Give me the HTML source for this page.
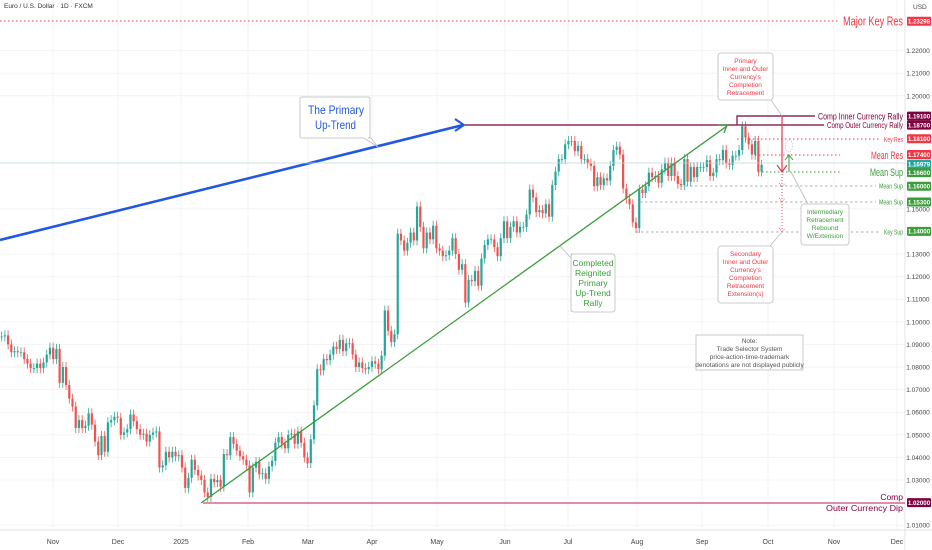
<!DOCTYPE html>
<html><head><meta charset="utf-8"><style>
html,body{margin:0;padding:0;background:#fff;}
body{position:relative;width:932px;height:550px;overflow:hidden}
svg{display:block;font-family:"Liberation Sans",sans-serif;}
</style></head><body>
<svg id="chart" width="932" height="550" viewBox="0 0 932 550" xmlns="http://www.w3.org/2000/svg">
<rect x="0" y="0" width="932" height="550" fill="#fff"/>
<g id="grid"></g>
<g id="candles"></g>
<g id="ann"></g>
<g id="axis"></g>
</svg>
<script>
const months=["Nov","Dec","2025","Feb","Mar","Apr","May","Jun","Jul","Aug","Sep","Oct","Nov","Dec"];
const monthX=[53,118,181,248,308,372,437,505,568,637,702,768,834,897];
const closes=[
1.0975,1.0940,1.0935,1.0935,1.0940,1.0900,1.0865,1.0870,1.0865,1.0865,1.0835,1.0815,1.0795,1.0795,1.0815,1.0795,1.0820,1.0855,1.0885,
1.0835,1.0880,1.0730,1.0800,1.0720,1.0660,1.0625,1.0530,1.0565,1.0530,1.0540,1.0595,1.0545,1.0470,1.0410,1.0495,1.0425,1.0555,1.0565,1.0580,1.0575,
1.0500,1.0510,1.0525,1.0590,1.0560,1.0525,1.0500,1.0505,1.0470,1.0500,1.0510,1.0515,1.0355,1.0365,1.0425,1.0400,1.0425,1.0405,1.0410,1.0355,
1.0265,1.0310,1.0390,1.0345,1.0320,1.0300,1.0245,1.0225,1.0305,1.0290,1.0300,1.0270,1.0415,1.0410,1.0490,1.0460,1.0430,1.0405,1.0390,1.0365,
1.0245,1.0355,1.0380,1.0325,1.0330,1.0305,1.0360,1.0385,1.0465,1.0490,1.0460,1.0440,1.0500,1.0505,1.0460,1.0515,1.0465,1.0400,1.0375,
1.0480,1.0630,1.0790,1.0785,1.0835,1.0830,1.0855,1.0890,1.0880,1.0920,1.0870,1.0905,1.0905,1.0855,1.0800,1.0820,1.0795,1.0790,1.0800,1.0825,1.0815,
1.0790,1.0850,1.1050,1.0960,1.0910,1.0945,1.1390,1.1360,1.1315,1.1350,1.1395,1.1360,1.1510,1.1420,1.1325,1.1395,1.1365,1.1425,1.1325,1.1315,
1.1290,1.1295,1.1315,1.1370,1.1300,1.1230,1.1255,1.1085,1.1185,1.1180,1.1225,1.1160,1.1280,1.1340,1.1365,1.1365,1.1330,1.1290,1.1370,
1.1445,1.1370,1.1420,1.1445,1.1395,1.1420,1.1420,1.1475,1.1585,1.1550,1.1485,1.1495,1.1480,1.1520,1.1465,1.1605,1.1665,1.1720,1.1720,1.1785,
1.1800,1.1800,1.1755,1.1778,1.1720,1.1720,1.1700,1.1690,1.1600,1.1640,1.1605,1.1635,1.1625,1.1690,1.1760,1.1775,1.1740,1.1590,1.1545,1.1520,1.1440,1.1415,
1.1585,1.1570,1.1600,1.1660,1.1640,1.1645,1.1615,1.1675,1.1705,1.1645,1.1705,1.1645,1.1610,1.1605,1.1720,1.1620,1.1685,1.1640,1.1685,1.1685,1.1685,
1.1715,1.1645,1.1660,1.1720,1.1715,1.1760,1.1700,1.1695,1.1735,1.1735,1.1760,1.1865,1.1815,1.1785,1.1740,1.1800,1.1665,1.1695];
const tickPrices=[1.01,1.03,1.04,1.05,1.06,1.07,1.08,1.09,1.10,1.11,1.12,1.13,1.15,1.20,1.21,1.22];
const levelPrices=[1.23298,1.191,1.187,1.181,1.174,1.16979,1.166,1.160,1.153,1.140,1.020];
const levelLabels=["1.23298","1.19100","1.18700","1.18100","1.17400","1.16979","1.16600","1.16000","1.15300","1.14000","1.02000"];

const NS="http://www.w3.org/2000/svg";
function yS(p){return 254-(p-1.13)*2260;}
function xS(i){return -8+i*3.22;}
function mk(parent,tag,attrs,text){const e=document.createElementNS(NS,tag);for(const k in attrs)e.setAttribute(k,attrs[k]);if(text!==undefined)e.textContent=text;parent.appendChild(e);return e;}
const grid=document.getElementById('grid'),cg=document.getElementById('candles'),ax=document.getElementById('axis');

monthX.forEach(x=>{const l=mk(grid,'line',{x1:x,y1:0,x2:x,y2:530,stroke:'#f3f3f5','stroke-width':1});

});
tickPrices.forEach(p=>{const l=mk(grid,'line',{x1:0,y1:yS(p),x2:905,y2:yS(p),stroke:'#f3f3f5','stroke-width':1});

});

for(let i=0;i<closes.length;i++){
  const c=closes[i],o=i>0?closes[i-1]:c+0.001;
  const up=c>=o,col=up?'#26a69a':'#ef5350';
  const x=xS(i),hi=Math.max(o,c)+0.0022,lo=Math.min(o,c)-0.0022;
  const g=mk(cg,'g',{});
  
  
  mk(g,'line',{x1:x,y1:yS(hi),x2:x,y2:yS(lo),stroke:col,'stroke-width':0.8});
  const t=yS(Math.max(o,c)),b=yS(Math.min(o,c));
  mk(g,'rect',{x:x-1.1,y:t,width:2.2,height:Math.max(b-t,0.8),fill:col});
}

months.forEach((m,i)=>{const t=mk(ax,'text',{x:monthX[i],y:544,'font-size':7,fill:'#444','text-anchor':'middle'},m);

});
mk(ax,'line',{x1:0,y1:530,x2:932,y2:530,stroke:'#e0e3eb','stroke-width':1});
mk(ax,'line',{x1:905,y1:0,x2:905,y2:550,stroke:'#e0e3eb','stroke-width':1});
tickPrices.forEach(p=>{const t=mk(ax,'text',{x:918,y:yS(p)+2.5,'font-size':6.5,fill:'#444','text-anchor':'middle'},p.toFixed(5));

});
const boxCols=['#f23645','#800040','#800040','#f23645','#f23645','#22a7a0','#3a9d3a','#3a9d3a','#3a9d3a','#3a9d3a','#800040'];
levelPrices.forEach((p,i)=>{const g=mk(ax,'g',{});


mk(g,'rect',{x:907,y:yS(p)-4.5,width:24,height:9,fill:boxCols[i],rx:1});
mk(g,'text',{x:919,y:yS(p)+2.3,'font-size':6.2,fill:'#fff','text-anchor':'middle','font-weight':'bold'},levelLabels[i]);});
</script>
<svg style="position:absolute;left:0;top:0" width="932" height="550" viewBox="0 0 932 550" xmlns="http://www.w3.org/2000/svg" font-family="Liberation Sans, sans-serif">
<text x="4" y="8" font-size="6.5" fill="#333">Euro / U.S. Dollar · 1D · FXCM</text>
<text x="913" y="9" font-size="6.5" fill="#444">USD</text>
<g>
<line x1="0" y1="21" x2="840" y2="21" stroke="#f23645" stroke-dasharray="1.5,2.5" stroke-width="1"/>
<text x="843" y="25.5" font-size="13" fill="#f23645" textLength="60" lengthAdjust="spacingAndGlyphs">Major Key Res</text>
</g>
<g>
<line x1="0" y1="240" x2="463" y2="125" stroke="#2157e6" stroke-width="2.6"/>
<polyline points="455,119 464,125 455,131" fill="none" stroke="#2157e6" stroke-width="2"/>
</g>
<g>
<path d="M302,97 H368 Q370,97 370,99 V136 Q370,138 368,138 H371 L378,147 L364,138 H302 Q300,138 300,136 V99 Q300,97 302,97 Z" fill="#fff" stroke="#bbb" stroke-width="0.8"/>
<text x="308" y="114" font-size="12" fill="#2157e6" textLength="56" lengthAdjust="spacingAndGlyphs">The Primary</text>
<text x="315" y="129" font-size="12" fill="#2157e6" textLength="41" lengthAdjust="spacingAndGlyphs">Up-Trend</text>
</g>
<g>
<line x1="465" y1="125" x2="824" y2="125" stroke="#8e2a5a" stroke-width="1.4"/>
<text x="827" y="128" font-size="8.5" fill="#800040" textLength="76" lengthAdjust="spacingAndGlyphs">Comp Outer Currency Rally</text>
</g>
<g>
<polyline points="737,125 737,116 815,116" fill="none" stroke="#8e2a5a" stroke-width="1.4"/>
<text x="818" y="119.5" font-size="9.5" fill="#800040" textLength="85" lengthAdjust="spacingAndGlyphs">Comp Inner Currency Rally</text>
</g>
<g>
<line x1="737" y1="139" x2="880" y2="139" stroke="#f23645" stroke-dasharray="1.5,2.5"/>
<text x="884" y="142" font-size="7.5" fill="#f23645" textLength="19" lengthAdjust="spacingAndGlyphs">Key Res</text>
</g>
<g>
<line x1="755" y1="155" x2="840" y2="155" stroke="#f23645" stroke-dasharray="1.5,2.5"/>
<text x="871" y="159" font-size="11" fill="#f23645" textLength="32" lengthAdjust="spacingAndGlyphs">Mean Res</text>
</g>
<line x1="0" y1="163" x2="905" y2="163" stroke="#b8d8da" stroke-width="0.7"/>
<g>
<line x1="758" y1="172" x2="840" y2="172" stroke="#3a9d3a" stroke-dasharray="1.5,2.5"/>
<text x="870" y="176" font-size="11" fill="#3a9d3a" textLength="33" lengthAdjust="spacingAndGlyphs">Mean Sup</text>
</g>
<g>
<line x1="680" y1="186" x2="876" y2="186" stroke="#999" stroke-dasharray="2.5,2.5" stroke-width="0.7"/>
<text x="879" y="188.5" font-size="7" fill="#3a9d3a" textLength="24" lengthAdjust="spacingAndGlyphs">Mean Sup</text>
</g>
<g>
<line x1="640" y1="202" x2="876" y2="202" stroke="#999" stroke-dasharray="2.5,2.5" stroke-width="0.7"/>
<text x="879" y="204.5" font-size="7" fill="#3a9d3a" textLength="24" lengthAdjust="spacingAndGlyphs">Mean Sup</text>
</g>
<g>
<line x1="636" y1="232" x2="880" y2="232" stroke="#999" stroke-dasharray="2.5,2.5" stroke-width="0.7"/>
<text x="884" y="234.5" font-size="7" fill="#3a9d3a" textLength="19" lengthAdjust="spacingAndGlyphs">Key Sup</text>
</g>
<g>
<line x1="203" y1="503" x2="905" y2="503" stroke="#c2185b" stroke-width="1"/>
<text x="903" y="500" font-size="8.5" fill="#800040" text-anchor="end">Comp</text>
<text x="826" y="511" font-size="8.5" fill="#800040" textLength="77" lengthAdjust="spacingAndGlyphs">Outer Currency Dip</text>
</g>
<g>
<line x1="201" y1="503" x2="727" y2="126" stroke="#3a9d3a" stroke-width="1.3"/>
<polyline points="718,125 727,125 724,133" fill="none" stroke="#3a9d3a" stroke-width="1.3"/>
</g>
<g>
<path d="M571,254 H612 Q615,254 615,257 V309 Q615,312 612,312 H574 Q571,312 571,309 V257 Q571,254 574,254 Z" fill="#fff" stroke="#bbb" stroke-width="0.8"/>
<line x1="571" y1="258" x2="559" y2="245" stroke="#bbb" stroke-width="0.8"/>
<text font-size="8.5" fill="#3a9d3a" text-anchor="middle"><tspan x="593" y="266">Completed</tspan><tspan x="593" y="276">Reignited</tspan><tspan x="593" y="286">Primary</tspan><tspan x="593" y="296">Up-Trend</tspan><tspan x="593" y="306">Rally</tspan></text>
</g>
<g>
<line x1="782" y1="116" x2="782" y2="172" stroke="#e53950" stroke-width="1.2"/>
<polyline points="777,165 782,172 787,165" fill="none" stroke="#e53950" stroke-width="1.2"/>
<line x1="782" y1="174" x2="782" y2="231" stroke="#e53950" stroke-dasharray="1,2" stroke-width="0.9"/>
<polyline points="779,183 782,187 785,183" fill="none" stroke="#e53950" stroke-width="0.7" stroke-dasharray="1,1"/>
<polyline points="779,198 782,202 785,198" fill="none" stroke="#e53950" stroke-width="0.7" stroke-dasharray="1,1"/>
<polyline points="779,228 782,232 785,228" fill="none" stroke="#e53950" stroke-width="0.7" stroke-dasharray="1,1"/>
</g>
<g>
<line x1="789" y1="172" x2="789" y2="155" stroke="#3a9d3a" stroke-width="1"/>
<polyline points="785,160 789,155 793,160" fill="none" stroke="#3a9d3a" stroke-width="1"/>
<ellipse cx="789" cy="146" rx="3.5" ry="6" fill="none" stroke="#999" stroke-dasharray="1,1.5" stroke-width="0.6"/>
</g>
<g>
<rect x="718" y="53" width="55" height="47" rx="3" fill="#fff" stroke="#bbb" stroke-width="0.8"/>
<line x1="771" y1="100" x2="782" y2="116" stroke="#bbb" stroke-width="0.8"/>
<text font-size="6.5" fill="#f23645" text-anchor="middle"><tspan x="745.5" y="63">Primary</tspan><tspan x="745.5" y="71">Inner and Outer</tspan><tspan x="745.5" y="79">Currency's</tspan><tspan x="745.5" y="87">Completion</tspan><tspan x="745.5" y="95">Retracement</tspan></text>
</g>
<g>
<rect x="801" y="204" width="48" height="41" rx="3" fill="#fff" stroke="#bbb" stroke-width="0.8"/>
<line x1="808" y1="204" x2="791" y2="172" stroke="#bbb" stroke-width="0.8"/>
<text font-size="6.5" fill="#3a9d3a" text-anchor="middle"><tspan x="825" y="214">Intermediary</tspan><tspan x="825" y="222">Retracement</tspan><tspan x="825" y="230">Rebound</tspan><tspan x="825" y="238">W/Extension</tspan></text>
</g>
<g>
<rect x="718" y="246" width="55" height="57" rx="3" fill="#fff" stroke="#bbb" stroke-width="0.8"/>
<line x1="770" y1="246" x2="782" y2="232" stroke="#bbb" stroke-width="0.8"/>
<text font-size="6.5" fill="#f23645" text-anchor="middle"><tspan x="745.5" y="256">Secondary</tspan><tspan x="745.5" y="264">Inner and Outer</tspan><tspan x="745.5" y="272">Currency's</tspan><tspan x="745.5" y="280">Completion</tspan><tspan x="745.5" y="288">Retracement</tspan><tspan x="745.5" y="296">Extension(s)</tspan></text>
</g>
<g>
<rect x="696" y="335" width="107" height="35" fill="#fff" stroke="#bbb" stroke-width="0.8"/>
<text font-size="6.5" fill="#555" text-anchor="middle"><tspan x="749.5" y="343">Note:</tspan><tspan x="749.5" y="351">Trade Selector System</tspan><tspan x="749.5" y="359">price-action-time-trademark</tspan><tspan x="749.5" y="367">denotations are not displayed publicly</tspan></text>
</g>
</svg>
</body></html>
